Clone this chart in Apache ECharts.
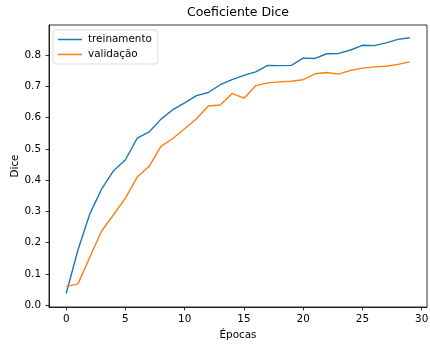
<!DOCTYPE html>
<html>
<head>
<meta charset="utf-8">
<script src="https://cdn.jsdelivr.net/npm/echarts@6/dist/echarts.min.js"></script>
<style>
html,body{margin:0;padding:0;background:#fff;}
#chart{width:430px;height:347px;}
</style>
</head>
<body>
<div id="chart"></div>
<script>
var epochs = [0,1,2,3,4,5,6,7,8,9,10,11,12,13,14,15,16,17,18,19,20,21,22,23,24,25,26,27,28,29];
var treinamento = [0.037,0.177,0.292,0.372,0.430,0.465,0.534,0.554,0.595,0.625,0.647,0.670,0.680,0.705,0.721,0.735,0.746,0.767,0.766,0.767,0.790,0.789,0.804,0.805,0.816,0.831,0.830,0.839,0.850,0.855];
var validacao = [0.060,0.068,0.154,0.238,0.289,0.342,0.410,0.444,0.508,0.533,0.564,0.596,0.637,0.640,0.677,0.662,0.702,0.711,0.714,0.716,0.721,0.740,0.744,0.739,0.751,0.758,0.762,0.764,0.770,0.778];
var xTicks = [0,5,10,15,20,25,30];
var yTicks = [0.0,0.1,0.2,0.3,0.4,0.5,0.6,0.7,0.8];
var seriesNames = ['treinamento','validação'];

function pairs(vals){ return epochs.map(function(e,i){ return [e, vals[i]]; }); }

var font = 'DejaVu Sans';
var fs = 10.4;
var chart = echarts.init(document.getElementById('chart'), null, {renderer:'canvas'});
chart.setOption({
  backgroundColor:'#fff',
  animation:false,
  title:{
    text:'Coeficiente Dice', left:238, top:6, padding:0, textAlign:'center',
    textStyle:{fontFamily:font, fontSize:12.5, fontWeight:'normal', color:'#000'}
  },
  legend:{
    data:seriesNames, orient:'vertical', left:53, top:30,
    icon:'rect', itemWidth:24, itemHeight:1.5, itemGap:2,
    padding:[3,6,3,5],
    borderColor:'#d4d4d4', borderWidth:0.8, borderRadius:3,
    textStyle:{fontFamily:font, fontSize:fs, color:'#000', lineHeight:13, padding:[0,0,0,1]}
  },
  grid:{left:49, right:3, top:25, bottom:40, outerBoundsMode:'none', containLabel:false,
    show:true, borderColor:'#000', borderWidth:0.8, backgroundColor:'transparent'},
  xAxis:{
    type:'value', min:-1.45, max:30.45,
    name:'Épocas', nameLocation:'middle', nameGap:23, nameMoveOverlap:false,
    nameTextStyle:{fontFamily:font, fontSize:fs, color:'#000'},
    axisLine:{show:true, onZero:false, lineStyle:{color:'#000', width:0.8}},
    axisTick:{show:true, inside:false, length:3.5, customValues:xTicks, lineStyle:{color:'#000', width:0.8}},
    axisLabel:{customValues:xTicks, fontFamily:font, fontSize:fs, color:'#000', margin:7},
    splitLine:{show:false}
  },
  yAxis:{
    type:'value', min:-0.006, max:0.896,
    name:'Dice', nameLocation:'middle', nameGap:29, nameRotate:90, nameMoveOverlap:false,
    nameTextStyle:{fontFamily:font, fontSize:fs, color:'#000'},
    axisLine:{show:true, onZero:false, lineStyle:{color:'#000', width:0.8}},
    axisTick:{show:true, inside:false, length:3.5, customValues:yTicks, lineStyle:{color:'#000', width:0.8}},
    axisLabel:{customValues:yTicks, fontFamily:font, fontSize:fs, color:'#000', margin:8,
      formatter:function(v){ return v.toFixed(1); }},
    splitLine:{show:false}
  },
  series:[
    {name:seriesNames[0], type:'line', data:pairs(treinamento), symbol:'none', color:'#1f77b4', lineStyle:{width:1.4, color:'#1f77b4'}},
    {name:seriesNames[1], type:'line', data:pairs(validacao), symbol:'none', color:'#ff7f0e', lineStyle:{width:1.4, color:'#ff7f0e'}}
  ]
});
</script>
</body>
</html>
